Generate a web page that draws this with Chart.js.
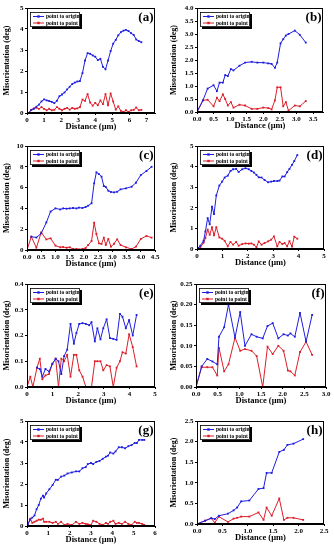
<!DOCTYPE html>
<html>
<head>
<meta charset="utf-8">
<script src="https://cdn.jsdelivr.net/npm/chart.js@4.4.0/dist/chart.umd.min.js"></script>
<style>
  html, body { margin: 0; padding: 0; background: #fff; }
  #fig { position: relative; width: 334px; height: 550px; overflow: hidden; }
</style>
</head>
<body>
<div id="fig"></div>
<script>
const SERIF = "'Liberation Serif', 'DejaVu Serif', serif";
const BLUE = '#1e1ee0';
const RED = '#dc1e2a';

// (a)
const distA = [0.1, 0.25, 0.4, 0.55, 0.7, 0.85, 1.0, 1.15, 1.3, 1.45, 1.6, 1.75, 1.9, 2.05, 2.2, 2.35, 2.5, 2.65, 2.8, 2.95, 3.1, 3.25, 3.4, 3.55, 3.7, 3.85, 4.0, 4.15, 4.3, 4.45, 4.6, 4.75, 4.9, 5.05, 5.2, 5.35, 5.5, 5.65, 5.8, 5.95, 6.1, 6.25, 6.4, 6.55, 6.7];
const originA = [0, 0.15, 0.2, 0.3, 0.4, 0.55, 0.65, 0.6, 0.57, 0.53, 0.47, 0.58, 0.8, 0.88, 0.98, 1.12, 1.25, 1.38, 1.45, 1.5, 1.52, 1.9, 2.5, 2.85, 2.82, 2.74, 2.68, 2.52, 2.58, 2.2, 2.08, 2.5, 2.95, 3.3, 3.48, 3.7, 3.85, 3.92, 3.96, 3.9, 3.8, 3.72, 3.5, 3.43, 3.37];
const pointA = [0, 0.15, 0.22, 0.25, 0.2, 0.28, 0.2, 0.13, 0.2, 0.13, 0.15, 0.28, 0.2, 0.13, 0.2, 0.24, 0.16, 0.24, 0.2, 0.22, 0.28, 0.64, 0.58, 0.9, 0.5, 0.35, 0.48, 0.37, 0.6, 0.42, 0.9, 0.37, 0.93, 0.55, 0.16, 0.32, 0.1, 0.05, 0.13, 0.05, 0.13, 0.15, 0.26, 0.13, 0.15];

// (b)
const distB = [0, 0.18, 0.32, 0.5, 0.6, 0.68, 0.78, 0.85, 0.93, 1.02, 1.1, 1.28, 1.45, 1.65, 1.82, 2.0, 2.15, 2.25, 2.35, 2.42, 2.52, 2.6, 2.68, 2.76, 2.95, 3.1, 3.28];
const originB = [0, 0.45, 0.9, 1.03, 0.8, 1.13, 1.13, 1.42, 1.38, 1.65, 1.6, 1.78, 1.9, 1.93, 1.9, 1.9, 1.87, 1.85, 1.7, 1.9, 2.64, 2.8, 2.94, 3.0, 3.13, 2.97, 2.67];
const pointB = [0, 0.45, 0.47, 0.22, 0.55, 0.42, 0.68, 0.5, 0.25, 0.38, 0.17, 0.28, 0.25, 0.12, 0.12, 0.17, 0.15, 0.1, 0.45, 0.95, 0.95, 0.22, 0.38, 0.05, 0.25, 0.22, 0.42];

// (c)
const distC = [0, 0.15, 0.33, 0.5, 0.68, 0.83, 1.0, 1.17, 1.27, 1.39, 1.5, 1.62, 1.74, 1.83, 1.95, 2.06, 2.15, 2.27, 2.36, 2.44, 2.53, 2.62, 2.7, 2.77, 2.86, 2.95, 3.06, 3.17, 3.29, 3.48, 3.68, 3.83, 4.0, 4.2, 4.38];
const originC = [null, 1.28, 1.2, 1.6, 2.65, 3.7, 4.0, 3.9, 4.0, 3.97, 4.0, 4.04, 4.0, 4.07, 4.04, 4.13, 4.26, 4.49, 6.41, 7.47, 7.3, 7.05, 6.15, 6.06, 5.7, 5.58, 5.54, 5.6, 5.83, 5.93, 6.09, 6.47, 7.2, 7.6, 8.0];
const pointC = [0, 1.28, 0.22, 1.7, 1.02, 1.12, 0.42, 0.26, 0.29, 0.22, 0.26, 0.1, 0.1, 0.06, 0.1, 0.19, 0.48, 0.87, 2.63, 1.54, 0.64, 0.58, 1.19, 0.48, 1.06, 0.32, 0.6, 1.03, 0.48, 0.26, 0.1, 0.32, 1.06, 1.35, 1.19];

// (d)
const distD = [0, 0.13, 0.26, 0.33, 0.42, 0.5, 0.59, 0.67, 0.76, 0.88, 0.99, 1.09, 1.21, 1.32, 1.42, 1.54, 1.64, 1.78, 1.91, 2.04, 2.14, 2.24, 2.34, 2.43, 2.54, 2.66, 2.8, 2.92, 3.03, 3.16, 3.25, 3.36, 3.45, 3.55, 3.64, 3.74, 3.83, 3.95];
const originD = [0, 0.16, 0.4, 0.85, 1.5, 1.2, 2.05, 1.7, 2.6, 3.08, 3.27, 3.47, 3.56, 3.79, 3.87, 3.89, 3.74, 3.87, 3.92, 3.87, 3.79, 3.71, 3.6, 3.48, 3.47, 3.35, 3.24, 3.27, 3.3, 3.3, 3.32, 3.52, 3.52, 3.73, 3.89, 4.08, 4.27, 4.56];
const pointD = [0, 0.08, 0.3, 0.53, 0.94, 0.69, 1.06, 0.66, 1.06, 0.56, 0.5, 0.4, 0.13, 0.34, 0.21, 0.34, 0.16, 0.24, 0.27, 0.26, 0.27, 0.21, 0.08, 0.37, 0.21, 0.29, 0.37, 0.45, 0.61, 0.13, 0.34, 0.24, 0.29, 0.13, 0.38, 0.12, 0.6, 0.5];

// (e)
const distE = [0, 0.13, 0.23, 0.39, 0.5, 0.6, 0.72, 0.86, 0.99, 1.12, 1.23, 1.34, 1.45, 1.57, 1.7, 1.83, 1.93, 2.04, 2.17, 2.3, 2.43, 2.52, 2.65, 2.75, 2.87, 2.98, 3.11, 3.24, 3.37, 3.5, 3.63, 3.73, 3.86, 3.99, 4.13, 4.28];
const originE = [null, null, null, 0.075, 0.07, 0.04, 0.07, 0.06, 0.09, 0.11, 0.1, 0.05, 0.12, 0.145, 0.245, 0.168, 0.21, 0.245, 0.248, 0.245, 0.24, 0.252, 0.177, 0.228, 0.185, 0.228, 0.263, 0.19, 0.187, 0.183, 0.284, 0.273, 0.228, 0.26, 0.2, 0.28];
const pointE = [0, 0.04, 0, 0.075, 0.11, 0.03, 0.045, 0.05, 0.09, 0.11, 0, 0.11, 0.1, 0.125, 0.04, 0.125, 0.125, 0.065, 0.04, 0, 0, 0, 0.1, 0.1, 0.1, 0.065, 0.085, 0.08, 0, 0.075, 0.1, 0.135, 0.13, 0.205, 0.155, 0.08];

// (f)
const distF = [0, 0.13, 0.26, 0.38, 0.49, 0.53, 0.65, 0.75, 0.9, 1.02, 1.13, 1.28, 1.4, 1.54, 1.65, 1.77, 1.9, 2.02, 2.12, 2.18, 2.28, 2.4, 2.54, 2.68];
const originF = [0, 0.05, 0.068, 0.062, 0.055, 0.122, 0.145, 0.2, 0.12, 0.182, 0.1, 0.128, 0.122, 0.118, 0.148, 0.155, 0.118, 0.128, 0.125, 0.13, 0.122, 0.18, 0.11, 0.175];
const pointF = [0, 0.048, 0.048, 0.048, 0.028, 0.095, 0.038, 0.055, 0.12, 0.088, 0.092, 0.088, 0.075, 0, 0.098, 0.08, 0.1, 0.088, 0.04, 0.038, 0.028, 0.085, 0.11, 0.078];

// (g)
const distG = [0.05, 0.15, 0.25, 0.35, 0.45, 0.55, 0.65, 0.75, 0.8, 0.9, 1.05, 1.2, 1.35, 1.45, 1.6, 1.75, 1.9, 2.1, 2.3, 2.45, 2.6, 2.75, 2.85, 3.0, 3.1, 3.25, 3.4, 3.55, 3.7, 3.8, 3.9, 4.05, 4.15, 4.3, 4.45, 4.6, 4.75, 4.9, 5.05, 5.15, 5.25, 5.4, 5.5];
const originG = [0.1, 0.3, 0.4, 0.5, 0.8, 1.0, 1.3, 1.45, 1.35, 1.55, 1.75, 1.95, 2.2, 2.2, 2.35, 2.4, 2.5, 2.55, 2.6, 2.6, 2.75, 2.8, 2.95, 3.0, 2.95, 3.05, 3.1, 3.2, 3.3, 3.35, 3.5, 3.45, 3.55, 3.75, 3.75, 3.7, 3.8, 3.85, 3.95, 3.95, 4.1, 4.1, 4.1];
const pointG = [0.1, 0.35, 0.15, 0.2, 0.25, 0.3, 0.3, 0.35, 0.2, 0.2, 0.2, 0.15, 0.2, 0.1, 0.2, 0.05, 0.1, 0.05, 0.2, 0.1, 0.15, 0.1, 0.08, 0.05, 0.25, 0.2, 0.1, 0.05, 0.15, 0.1, 0.2, 0.25, 0.1, 0.15, 0.1, 0.2, 0.1, 0.05, 0.2, 0.15, 0.15, 0.1, 0.05];

// (h)
const distH = [0, 0.16, 0.28, 0.35, 0.43, 0.61, 0.72, 0.79, 0.87, 1.03, 1.21, 1.31, 1.37, 1.47, 1.62, 1.71, 1.78, 1.9, 2.09];
const originH = [0, 0.08, 0.14, 0.12, 0.2, 0.25, 0.33, 0.4, 0.55, 0.57, 0.85, 0.87, 1.24, 1.24, 1.75, 1.8, 1.92, 1.95, 2.06];
const pointH = [0, 0.08, 0.14, 0.03, 0.18, 0.05, 0.13, 0.15, 0.18, 0.18, 0.28, 0.1, 0.4, 0.2, 0.62, 0.1, 0.15, 0.15, 0.1];

// box = canvas rect on the page, plot = wanted chart area (left, top, right, bottom)
const panels = [
  { tag: 'a', dist: distA, origin: originA, point: pointA, xMax: 7.5, xStep: 1, xDec: 0, yMax: 5, yStep: 1, yDec: 0, box: [0, 0, 167, 135], plot: [27, 8, 155, 113] },
  { tag: 'b', dist: distB, origin: originB, point: pointB, xMax: 3.8, xStep: 0.5, xDec: 1, yMax: 4, yStep: 0.5, yDec: 1, box: [167, 0, 167, 135], plot: [197, 8, 323, 112] },
  { tag: 'c', dist: distC, origin: originC, point: pointC, xMax: 4.5, xStep: 0.5, xDec: 1, yMax: 10, yStep: 2, yDec: 0, box: [0, 135, 167, 135], plot: [27, 146, 155, 250] },
  { tag: 'd', dist: distD, origin: originD, point: pointD, xMax: 5, xStep: 1, xDec: 0, yMax: 5, yStep: 1, yDec: 0, box: [167, 135, 167, 135], plot: [197, 146, 324, 249] },
  { tag: 'e', dist: distE, origin: originE, point: pointE, xMax: 5, xStep: 1, xDec: 0, yMax: 0.4, yStep: 0.1, yDec: 1, box: [0, 270, 167, 140], plot: [27, 284, 155, 387] },
  { tag: 'f', dist: distF, origin: originF, point: pointF, xMax: 3, xStep: 0.5, xDec: 1, yMax: 0.25, yStep: 0.05, yDec: 2, box: [167, 270, 167, 140], plot: [196, 284, 326, 387] },
  { tag: 'g', dist: distG, origin: originG, point: pointG, xMax: 6, xStep: 1, xDec: 0, yMax: 5, yStep: 1, yDec: 0, box: [0, 410, 167, 140], plot: [27, 421, 155, 526] },
  { tag: 'h', dist: distH, origin: originH, point: pointH, xMax: 2.5, xStep: 0.5, xDec: 1, yMax: 2.5, yStep: 0.5, yDec: 1, box: [167, 410, 167, 140], plot: [197, 421, 324, 524] },
];

// frame, inset legend with shadow, panel letter
const panelDecor = {
  id: 'panelDecor',
  afterDraw(chart, args, opts) {
    const { ctx, chartArea: a } = chart;
    ctx.save();
    ctx.strokeStyle = '#000';
    ctx.lineWidth = 1;
    ctx.strokeRect(a.left + 0.5, a.top + 0.5, a.width - 1, a.height - 1);

    const lx = a.left + 3, ly = a.top + 4, lw = 50, lh = 15;
    ctx.fillStyle = '#000';
    ctx.fillRect(lx + 2, ly + 2, lw, lh);
    ctx.fillStyle = '#fff';
    ctx.fillRect(lx, ly, lw, lh);
    ctx.lineWidth = 0.8;
    ctx.strokeRect(lx + 0.5, ly + 0.5, lw - 1, lh - 1);
    chart.data.datasets.forEach((ds, i) => {
      const y = ly + 4.5 + i * 6.5;
      ctx.strokeStyle = ds.borderColor;
      ctx.lineWidth = 1;
      ctx.beginPath();
      ctx.moveTo(lx + 3, y);
      ctx.lineTo(lx + 14, y);
      ctx.stroke();
      ctx.fillStyle = ds.borderColor;
      ctx.fillRect(lx + 7.3, y - 1.2, 2.4, 2.4);
      ctx.fillStyle = '#000';
      ctx.font = `bold 5.5px ${SERIF}`;
      ctx.textAlign = 'left';
      ctx.textBaseline = 'middle';
      ctx.fillText(ds.label, lx + 16, y + 0.3);
    });

    ctx.font = `bold 13px ${SERIF}`;
    ctx.textAlign = 'right';
    ctx.textBaseline = 'top';
    ctx.fillStyle = '#000';
    ctx.fillText(`(${opts.tag})`, a.right - 1.5, a.top + 3.5);
    ctx.restore();
  },
};

function makePanel(p) {
  const [bx, by, bw, bh] = p.box;
  const [pl, pt, pr, pb] = p.plot;
  const xAxisH = 19;
  const yAxisW = pl - bx;

  const canvas = document.createElement('canvas');
  canvas.width = bw;
  canvas.height = bh;
  canvas.style.cssText = `position:absolute;left:${bx}px;top:${by}px;width:${bw}px;height:${bh}px`;
  document.getElementById('fig').appendChild(canvas);

  const tickFont = { family: SERIF, size: 7, weight: 'bold' };
  const titleFont = { family: SERIF, size: 8.5, weight: 'bold' };

  new Chart(canvas, {
    type: 'line',
    data: {
      datasets: [
        {
          label: 'point to origin',
          data: p.dist.map((d, i) => ({ x: d, y: p.origin[i] })),
          borderColor: BLUE,
          backgroundColor: BLUE,
          borderWidth: 1,
          pointStyle: 'rect',
          pointRadius: 1.3,
          pointBorderWidth: 0,
          tension: 0,
        },
        {
          label: 'point to point',
          data: p.dist.map((d, i) => ({ x: d, y: p.point[i] })),
          borderColor: RED,
          backgroundColor: RED,
          borderWidth: 1,
          pointStyle: 'rect',
          pointRadius: 1.3,
          pointBorderWidth: 0,
          tension: 0,
        },
      ],
    },
    options: {
      responsive: false,
      animation: false,
      devicePixelRatio: 1,
      layout: {
        padding: { left: 0, top: pt - by, right: bx + bw - pr, bottom: by + bh - pb - xAxisH },
      },
      plugins: {
        legend: { display: false },
        tooltip: { enabled: false },
        panelDecor: { tag: p.tag },
      },
      scales: {
        x: {
          type: 'linear',
          min: 0,
          max: p.xMax,
          afterFit: (s) => { s.height = xAxisH; },
          grid: { drawOnChartArea: false, drawTicks: true, tickLength: 2, color: '#000' },
          border: { color: '#000', width: 1 },
          ticks: {
            stepSize: p.xStep,
            includeBounds: false,
            autoSkip: false,
            maxRotation: 0,
            padding: 1,
            color: '#000',
            font: tickFont,
            callback: (v) => Number(v).toFixed(p.xDec),
          },
          title: { display: true, text: 'Distance (μm)', color: '#000', font: titleFont, padding: 0 },
        },
        y: {
          min: 0,
          max: p.yMax,
          afterFit: (s) => { s.width = yAxisW; },
          grid: { drawOnChartArea: false, drawTicks: true, tickLength: 2, color: '#000' },
          border: { color: '#000', width: 1 },
          ticks: {
            stepSize: p.yStep,
            includeBounds: false,
            autoSkip: false,
            padding: 1.5,
            color: '#000',
            font: tickFont,
            callback: (v) => Number(v).toFixed(p.yDec),
          },
          title: { display: true, text: 'Misorientation (deg)', color: '#000', font: { family: SERIF, size: 8, weight: 'bold' }, padding: { top: 2.5, bottom: 0 } },
        },
      },
    },
    plugins: [panelDecor],
  });
}

panels.forEach(makePanel);
</script>
</body>
</html>
